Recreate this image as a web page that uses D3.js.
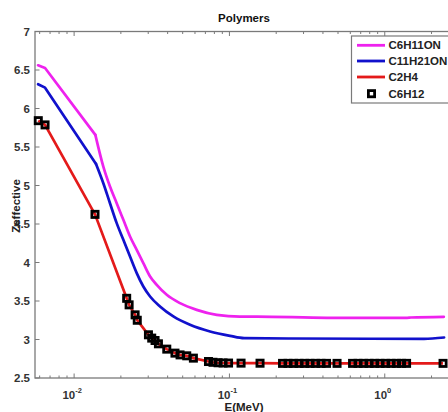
<!DOCTYPE html>
<html><head><meta charset="utf-8">
<script src="https://cdn.jsdelivr.net/npm/d3@7"></script>
<style>body{margin:0;background:#fff}svg{display:block}text{font-family:Arial,"Liberation Sans",sans-serif;font-weight:bold}</style>
</head><body><svg id="c" width="448" height="412"></svg>
<script>
// ---- data ----
const seriesNames = ["C6H11ON","C11H21ON","C2H4","C6H12"];
const magentaE = [0.00586,0.0065,0.0137,0.01542,0.01702,0.0188,0.02075,0.02291,0.0253,0.0279,0.03084,0.03405,0.03948,0.04806,0.06156,0.08278,0.1169,0.1506,0.425,1.392,1.475,2.40];
const magentaZ = [6.561,6.526,5.657,5.245,4.986,4.77,4.554,4.337,4.164,3.992,3.818,3.71,3.58,3.472,3.385,3.32,3.298,3.298,3.282,3.282,3.286,3.295];
const blueE = [0.00586,0.0065,0.01384,0.01542,0.01702,0.0188,0.02075,0.02291,0.0253,0.0279,0.03084,0.03573,0.04353,0.05575,0.075,0.1009,0.1242,0.2492,1.791,2.41];
const blueZ = [6.315,6.271,5.28,5.03,4.77,4.511,4.294,4.077,3.862,3.688,3.558,3.428,3.299,3.191,3.104,3.048,3.018,3.013,3.009,3.026];
const markE = [0.00588,0.0065,0.01363,0.0218,0.0226,0.0247,0.0255,0.0301,0.0316,0.0332,0.0349,0.0395,0.0446,0.0481,0.0531,0.0586,0.0733,0.0784,0.0845,0.091,0.0987,0.1188,0.1574,0.2197,0.2384,0.2587,0.2807,0.3046,0.3304,0.3584,0.3889,0.4219,0.493,0.6204,0.6731,0.7304,0.7924,0.8596,0.9326,1.012,1.098,1.191,1.283,1.382,2.373];
const markZ = [5.842,5.787,4.625,3.535,3.45,3.32,3.25,3.061,3.018,2.987,2.944,2.875,2.823,2.8,2.788,2.758,2.714,2.704,2.698,2.695,2.694,2.693,2.692,2.69,2.69,2.69,2.69,2.69,2.69,2.69,2.69,2.69,2.69,2.69,2.69,2.69,2.69,2.69,2.69,2.69,2.69,2.69,2.69,2.69,2.69];
const redE = markE;
const redZ = markZ;
const yTicks = [2.5,3,3.5,4,4.5,5,5.5,6,6.5,7];
const yTickLabels = ["2.5","3","3.5","4","4.5","5","5.5","6","6.5","7"];
const xMajor = [0.01,0.1,1];
const xMajorExp = ["-2","-1","0"];
const colors = ["#ee22ee","#1111cc","#e41a1a","#000"];

// ---- layout ----
const svg = d3.select("#c");
const L=35, R=453, T=31.5, B=378;
const x = d3.scaleLog().domain([0.0056,2.75]).range([L,R]);
const y = d3.scaleLinear().domain([2.5,7]).range([B,T]);
const axisCol="#7a7a7a";

svg.append("rect").attr("x",L).attr("y",T).attr("width",R-L).attr("height",B-T)
  .attr("fill","none").attr("stroke",axisCol).attr("stroke-width",1.3);

const minor=[];
for(let e=-3;e<=0;e++) for(let m=2;m<=9;m++){const v=m*Math.pow(10,e); if(v>=0.0056&&v<=2.75) minor.push(v);}
const tg=svg.append("g").attr("stroke",axisCol).attr("stroke-width",1);
minor.forEach(v=>{const px=x(v);
  tg.append("line").attr("x1",px).attr("x2",px).attr("y1",B).attr("y2",B-2.5);
  tg.append("line").attr("x1",px).attr("x2",px).attr("y1",T).attr("y2",T+2.5);});
xMajor.forEach(v=>{const px=x(v);
  tg.append("line").attr("x1",px).attr("x2",px).attr("y1",B).attr("y2",B-4.5);
  tg.append("line").attr("x1",px).attr("x2",px).attr("y1",T).attr("y2",T+4.5);});
yTicks.forEach(v=>{const py=y(v);
  tg.append("line").attr("x1",L).attr("x2",L+4.5).attr("y1",py).attr("y2",py);
  tg.append("line").attr("x1",R).attr("x2",R-4.5).attr("y1",py).attr("y2",py);});

yTicks.forEach((v,i)=>{
  svg.append("text").attr("x",L-5).attr("y",y(v)+4).attr("text-anchor","end")
    .attr("font-size",11.5).attr("fill","#333").text(yTickLabels[i]);});
xMajor.forEach((v,i)=>{
  const t=svg.append("text").attr("x",x(v)-2).attr("y",399).attr("text-anchor","middle")
    .attr("font-size",11.5).attr("fill","#333");
  t.append("tspan").text("10");
  t.append("tspan").attr("dy",-6).attr("font-size",7.5).text(xMajorExp[i]);});

svg.append("text").attr("x",244).attr("y",411).attr("text-anchor","middle").attr("font-size",11.5).attr("fill","#222").text("E(MeV)");
svg.append("text").attr("transform","translate(20,206) rotate(-90)").attr("text-anchor","middle").attr("font-size",11.5).attr("fill","#222").text("Zeffective");
svg.append("text").attr("x",244).attr("y",22).attr("text-anchor","middle").attr("font-size",11.5).attr("fill","#111").text("Polymers");

// lines: straight segments up to the kink (index 2), smooth after it
const lin=d3.line().x(d=>x(d[0])).y(d=>y(d[1]));
const smooth=d3.line().x(d=>x(d[0])).y(d=>y(d[1])).curve(d3.curveMonotoneX);
function drawCurve(E,Z,col){
  const pts=d3.zip(E,Z);
  const g=svg.append("g").attr("fill","none").attr("stroke",col).attr("stroke-width",2.7).attr("stroke-linejoin","round").attr("stroke-linecap","round");
  g.append("path").attr("d",lin(pts.slice(0,3)));
  g.append("path").attr("d",smooth(pts.slice(2)));
}
drawCurve(magentaE,magentaZ,colors[0]);
drawCurve(blueE,blueZ,colors[1]);
svg.append("path").attr("d",lin(d3.zip(redE,redZ))).attr("fill","none").attr("stroke",colors[2]).attr("stroke-width",2.7).attr("stroke-linejoin","round");

const ms=6.2;
svg.append("g").selectAll("rect").data(d3.zip(markE,markZ)).join("rect")
  .attr("x",d=>x(d[0])-ms/2).attr("y",d=>y(d[1])-ms/2).attr("width",ms).attr("height",ms)
  .attr("fill","none").attr("stroke","#000").attr("stroke-width",2.8);

const lg=svg.append("g");
lg.append("rect").attr("x",351.5).attr("y",36).attr("width",100).attr("height",67)
  .attr("fill","#fff").attr("stroke",axisCol).attr("stroke-width",1.2);
const ly=[45.3,61,77,93.7];
seriesNames.forEach((n,i)=>{
  if(i<3) lg.append("line").attr("x1",357).attr("x2",385).attr("y1",ly[i]).attr("y2",ly[i]).attr("stroke",colors[i]).attr("stroke-width",2.8);
  else lg.append("rect").attr("x",371.5-ms/2).attr("y",ly[i]-ms/2).attr("width",ms).attr("height",ms).attr("fill","none").attr("stroke","#000").attr("stroke-width",2.8);
  lg.append("text").attr("x",388.5).attr("y",ly[i]+4).attr("font-size",11.5).attr("fill","#222").text(n);
});
</script></body></html>
